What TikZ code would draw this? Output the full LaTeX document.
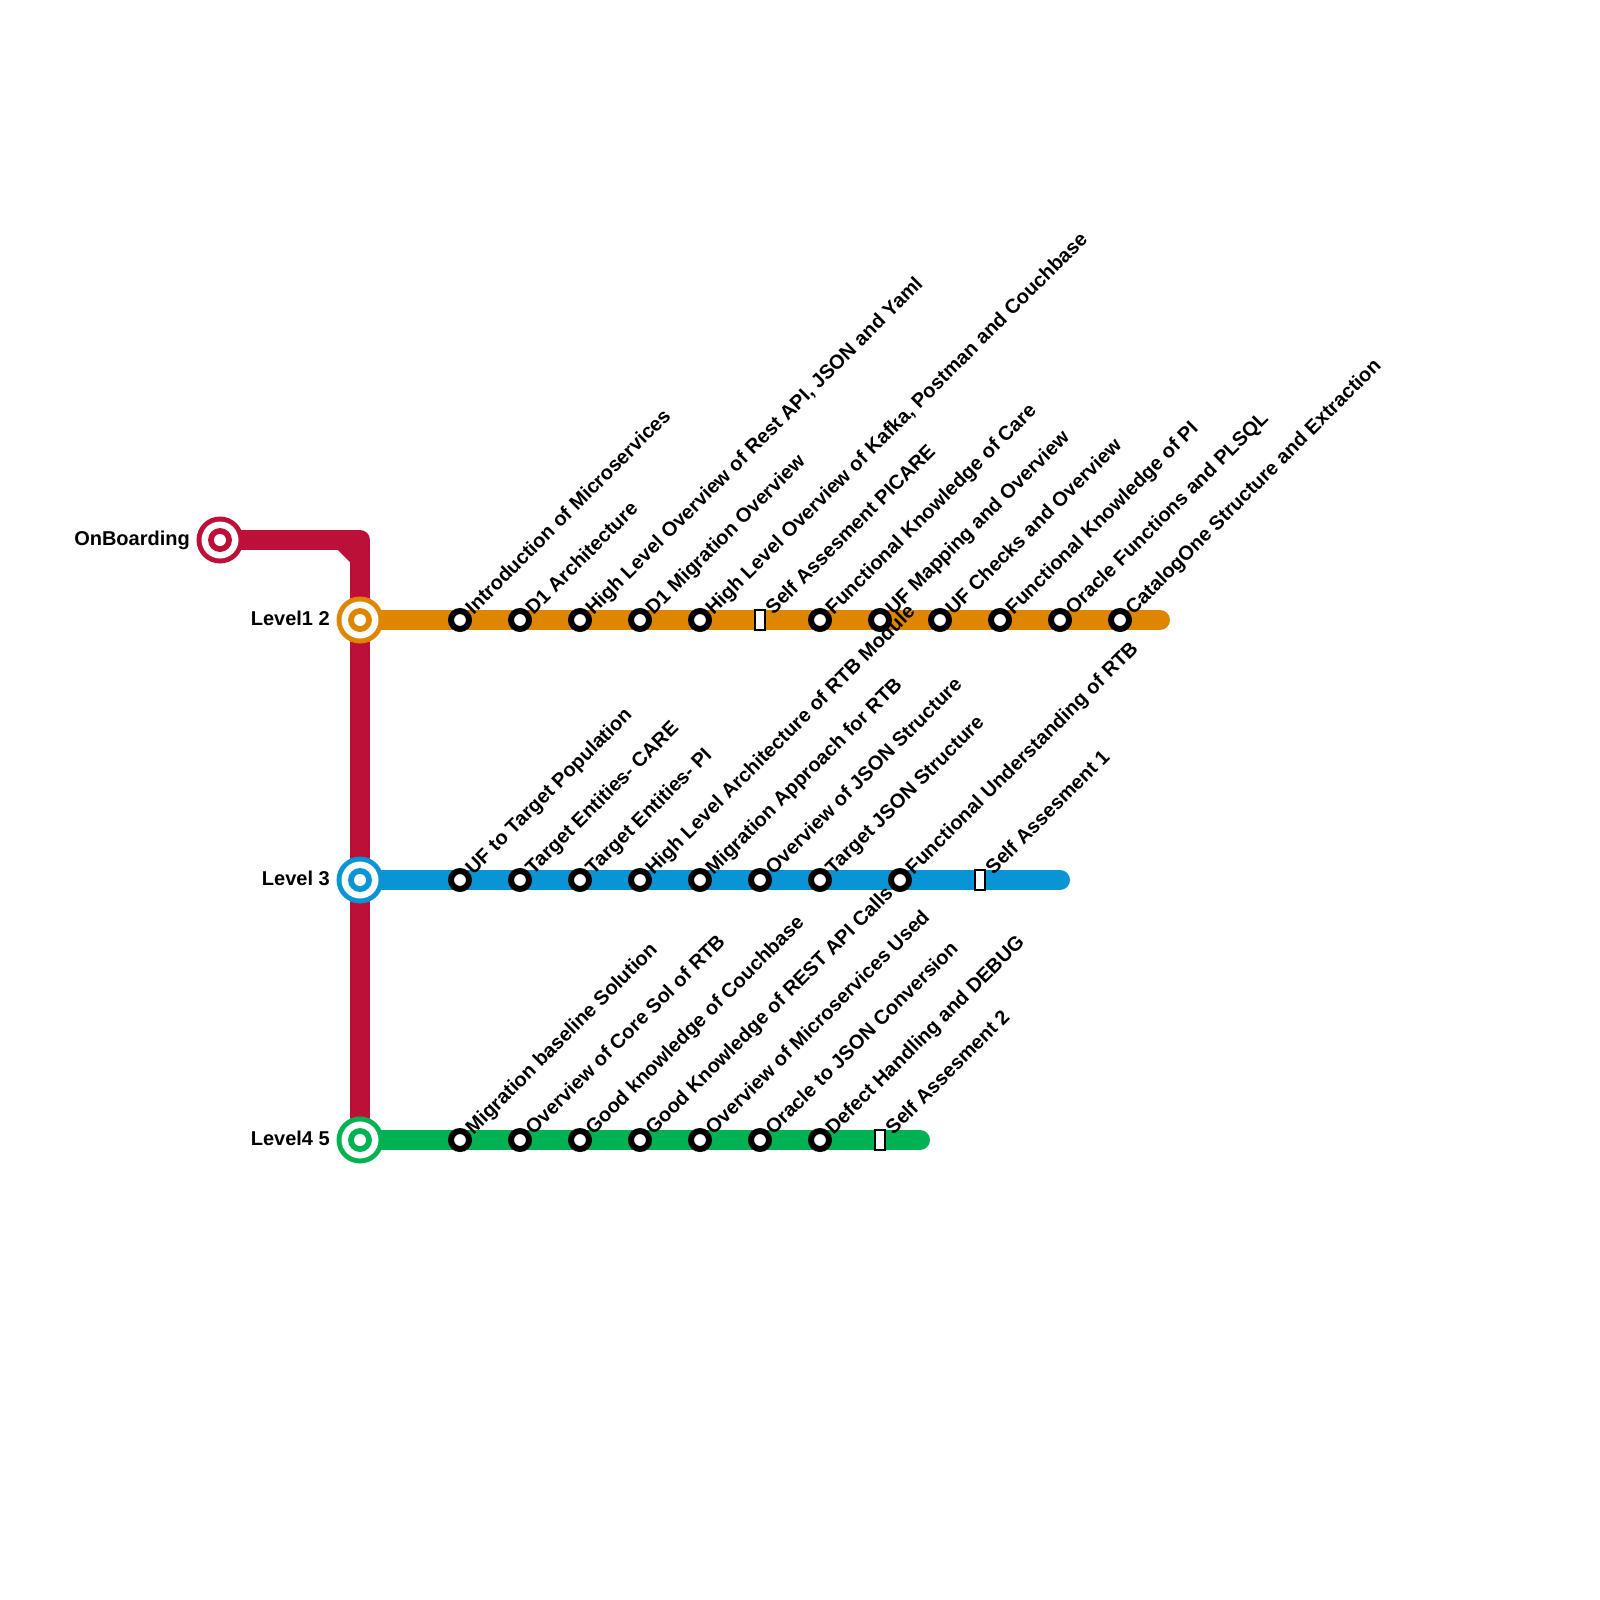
\documentclass[tikz,border=0pt]{standalone}
\usepackage{fontspec}
\setmainfont{Liberation Sans}
\definecolor{cred}{HTML}{BD1038}
\definecolor{corange}{HTML}{DF8600}
\definecolor{cblue}{HTML}{0994D6}
\definecolor{cgreen}{HTML}{00B251}
\tikzset{
 trackline/.style={line width=20pt,line cap=round,line join=round},
 stn/.style={circle,draw=black,fill=white,line width=6pt,minimum size=18pt,inner sep=0pt,outer sep=0pt},
 rectstn/.style={rectangle,draw=black,fill=white,line width=2pt,minimum width=10pt,minimum height=20pt,inner sep=0pt,outer sep=0pt},
 lab/.style={font=\fontsize{20}{24}\selectfont\bfseries,anchor=east,inner sep=0pt},
 rlab/.style={font=\fontsize{20}{24}\selectfont\bfseries,rotate=45,anchor=base west,inner sep=0pt},
}
\newcommand{\hub}[3]{%
 \node[circle,fill=#3,minimum size=47pt,inner sep=0pt,outer sep=0pt] (#1) at #2 {};
 \node[circle,fill=white,minimum size=37pt,inner sep=0pt] (#1a) at #2 {};
 \node[circle,fill=#3,minimum size=24pt,inner sep=0pt] (#1b) at #2 {};
 \node[circle,fill=white,minimum size=12pt,inner sep=0pt] (#1c) at #2 {};
}
\begin{document}
\begin{tikzpicture}[x=1pt,y=-1pt]
\useasboundingbox (0,0) rectangle (1600,1600);
\coordinate (ob) at (220,540);
\coordinate (corner) at (360,540);
\coordinate (la) at (360,620);
\coordinate (lb) at (360,880);
\coordinate (lc) at (360,1140);
\coordinate (ea) at (1160,620);
\coordinate (eb) at (1060,880);
\coordinate (ec) at (920,1140);
\draw[trackline,cred] (ob) -- (corner) -- (lc);
\fill[cred] (337,549) -- (351,549) -- (351,563) -- cycle;
\draw[trackline,corange] (la) -- (ea);
\draw[trackline,cblue] (lb) -- (eb);
\draw[trackline,cgreen] (lc) -- (ec);
\hub{hubob}{(ob)}{cred}
\hub{huba}{(la)}{corange}
\hub{hubb}{(lb)}{cblue}
\hub{hubc}{(lc)}{cgreen}
\node[lab] (tob) at (190,540) {OnBoarding};
\node[lab] (ta) at (330,618) {Level1 2};
\node[lab] (tb) at (330,878) {Level 3};
\node[lab] (tc) at (330,1138) {Level4 5};
% stations
\foreach \nm/\xx/\yy in {a1/460/620,a2/520/620,a3/580/620,a4/640/620,a5/700/620,a7/820/620,a8/880/620,a9/940/620,a10/1000/620,a11/1060/620,a12/1120/620,
 b1/460/880,b2/520/880,b3/580/880,b4/640/880,b5/700/880,b6/760/880,b7/820/880,b8/900/880,
 c1/460/1140,c2/520/1140,c3/580/1140,c4/640/1140,c5/700/1140,c6/760/1140,c7/820/1140}
 {\node[stn] (\nm) at (\xx,\yy) {};}
\foreach \nm/\xx/\yy in {a6/760/620,b9/980/880,c8/880/1140}
 {\node[rectstn] (\nm) at (\xx,\yy) {};}
\foreach \nm/\tx in {
 a1/Introduction of Microservices,
 a2/D1 Architecture,
 a3/{High Level Overview of Rest API, JSON and Yaml},
 a4/D1 Migration Overview,
 a5/{High Level Overview of Kafka, Postman and Couchbase},
 a6/Self Assesment PICARE,
 a7/Functional Knowledge of Care,
 a8/UF Mapping and Overview,
 a9/UF Checks and Overview,
 a10/Functional Knowledge of PI,
 a11/Oracle Functions and PLSQL,
 a12/CatalogOne Structure and Extraction,
 b1/UF to Target Population,
 b2/Target Entities- CARE,
 b3/Target Entities- PI,
 b4/High Level Architecture of RTB Module,
 b5/Migration Approach for RTB,
 b6/Overview of JSON Structure,
 b7/Target JSON Structure,
 b8/Functional Understanding of RTB,
 b9/Self Assesment 1,
 c1/Migration baseline Solution,
 c2/Overview of Core Sol of RTB,
 c3/Good knowledge of Couchbase,
 c4/Good Knowledge of REST API Calls,
 c5/Overview of Microservices Used,
 c6/Oracle to JSON Conversion,
 c7/Defect Handling and DEBUG,
 c8/Self Assesment 2}
 {\node[rlab] (\nm t) at ([shift={(13.5pt,4.5pt)}]\nm.center) {\tx};}
\end{tikzpicture}
\end{document}
